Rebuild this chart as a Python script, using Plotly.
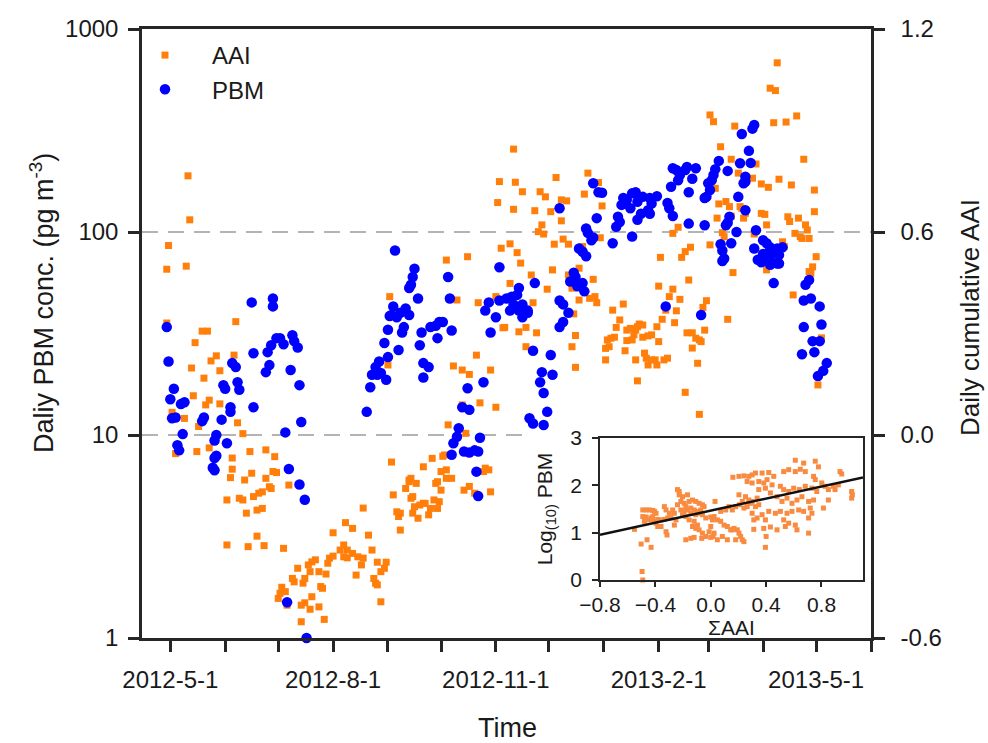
import plotly.graph_objects as go

# ---------------- data ----------------
# Daily cumulative AAI (orange squares, right axis): (date, value)
aai_points = [
    ("2012-04-29", 0.490), ("2012-04-29", 0.331), ("2012-04-30", 0.560), ("2012-05-02", 0.067),
    ("2012-05-04", -0.055), ("2012-05-09", 0.049), ("2012-05-10", 0.499), ("2012-05-11", 0.766),
    ("2012-05-12", 0.636), ("2012-05-13", 0.198), ("2012-05-14", 0.116), ("2012-05-15", 0.273),
    ("2012-05-16", -0.049), ("2012-05-17", 0.025), ("2012-05-19", 0.307), ("2012-05-20", 0.168),
    ("2012-05-21", 0.089), ("2012-05-22", 0.307), ("2012-05-23", 0.103), ("2012-05-23", -0.038),
    ("2012-05-24", 0.219), ("2012-05-27", 0.234), ("2012-05-29", 0.190), ("2012-05-29", 0.092),
    ("2012-06-02", -0.192), ("2012-06-02", -0.325), ("2012-06-04", -0.126), ("2012-06-05", -0.101),
    ("2012-06-05", -0.068), ("2012-06-06", 0.236), ("2012-06-07", 0.335), ("2012-06-08", 0.036),
    ("2012-06-09", -0.187), ("2012-06-11", -0.192), ("2012-06-11", 0.004), ("2012-06-12", -0.133),
    ("2012-06-13", -0.231), ("2012-06-14", -0.330), ("2012-06-15", -0.049), ("2012-06-16", -0.113),
    ("2012-06-17", -0.182), ("2012-06-19", -0.222), ("2012-06-19", -0.299), ("2012-06-20", -0.172),
    ("2012-06-22", -0.168), ("2012-06-22", -0.217), ("2012-06-23", -0.327), ("2012-06-24", -0.044),
    ("2012-06-24", -0.128), ("2012-06-26", -0.153), ("2012-06-27", -0.158), ("2012-06-28", -0.108),
    ("2012-06-29", -0.064), ("2012-06-30", -0.111), ("2012-07-01", -0.483), ("2012-07-02", -0.468),
    ("2012-07-03", -0.450), ("2012-07-04", -0.335), ("2012-07-05", -0.463), ("2012-07-06", -0.503),
    ("2012-07-07", -0.148), ("2012-07-09", -0.424), ("2012-07-10", -0.434), ("2012-07-12", -0.394),
    ("2012-07-14", -0.503), ("2012-07-14", -0.552), ("2012-07-15", -0.438), ("2012-07-16", -0.424),
    ("2012-07-16", -0.496), ("2012-07-18", -0.384), ("2012-07-19", -0.404), ("2012-07-19", -0.515),
    ("2012-07-20", -0.375), ("2012-07-20", -0.478), ("2012-07-22", -0.369), ("2012-07-24", -0.404),
    ("2012-07-24", -0.508), ("2012-07-25", -0.448), ("2012-07-26", -0.453), ("2012-07-27", -0.545),
    ("2012-07-28", -0.411), ("2012-07-29", -0.379), ("2012-07-30", -0.364), ("2012-08-01", -0.358),
    ("2012-08-01", -0.289), ("2012-08-05", -0.340), ("2012-08-07", -0.360), ("2012-08-07", -0.325),
    ("2012-08-08", -0.259), ("2012-08-09", -0.340), ("2012-08-09", -0.363), ("2012-08-12", -0.276),
    ("2012-08-12", -0.350), ("2012-08-14", -0.414), ("2012-08-15", -0.360), ("2012-08-17", -0.384),
    ("2012-08-18", -0.364), ("2012-08-18", -0.216), ("2012-08-21", -0.296), ("2012-08-23", -0.340),
    ("2012-08-24", -0.424), ("2012-08-25", -0.438), ("2012-08-26", -0.443), ("2012-08-26", -0.376),
    ("2012-08-28", -0.404), ("2012-08-28", -0.493), ("2012-08-30", -0.394), ("2012-08-31", -0.376),
    ("2012-09-01", 0.207), ("2012-09-02", 0.409), ("2012-09-03", -0.080), ("2012-09-04", -0.177),
    ("2012-09-06", -0.227), ("2012-09-07", -0.241), ("2012-09-08", -0.231), ("2012-09-08", -0.281),
    ("2012-09-11", -0.158), ("2012-09-13", -0.138), ("2012-09-13", -0.133), ("2012-09-14", -0.128),
    ("2012-09-14", -0.187), ("2012-09-15", -0.182), ("2012-09-15", -0.231), ("2012-09-16", -0.212),
    ("2012-09-17", -0.143), ("2012-09-18", -0.246), ("2012-09-19", -0.207), ("2012-09-21", -0.094),
    ("2012-09-21", -0.202), ("2012-09-22", -0.202), ("2012-09-24", -0.236), ("2012-09-25", -0.217),
    ("2012-09-26", -0.069), ("2012-09-27", -0.192), ("2012-09-28", -0.143), ("2012-09-29", -0.138),
    ("2012-09-29", -0.217), ("2012-09-30", -0.197), ("2012-10-01", -0.163), ("2012-10-01", -0.108),
    ("2012-10-02", -0.063), ("2012-10-03", -0.059), ("2012-10-04", -0.103), ("2012-10-04", -0.128),
    ("2012-10-04", 0.517), ("2012-10-05", 0.030), ("2012-10-07", -0.128), ("2012-10-08", 0.204),
    ("2012-10-10", 0.399), ("2012-10-13", 0.192), ("2012-10-13", 0.089), ("2012-10-14", -0.163),
    ("2012-10-15", 0.005), ("2012-10-16", 0.527), ("2012-10-17", 0.179), ("2012-10-17", -0.152),
    ("2012-10-20", -0.172), ("2012-10-21", 0.236), ("2012-10-22", 0.391), ("2012-10-23", 0.095),
    ("2012-10-25", -0.108), ("2012-10-26", -0.098), ("2012-10-28", -0.103), ("2012-10-29", 0.192),
    ("2012-10-29", -0.168), ("2012-11-01", 0.082), ("2012-11-01", 0.409), ("2012-11-03", 0.749),
    ("2012-11-02", 0.687), ("2012-11-04", 0.552), ("2012-11-05", 0.317), ("2012-11-06", 0.318),
    ("2012-11-09", 0.448), ("2012-11-09", 0.565), ("2012-11-11", 0.845), ("2012-11-11", 0.667),
    ("2012-11-12", 0.747), ("2012-11-13", 0.539), ("2012-11-14", 0.305), ("2012-11-15", 0.508),
    ("2012-11-16", 0.719), ("2012-11-18", 0.318), ("2012-11-18", 0.261), ("2012-11-21", 0.473),
    ("2012-11-22", 0.391), ("2012-11-23", 0.663), ("2012-11-24", 0.302), ("2012-11-25", 0.601),
    ("2012-11-26", 0.719), ("2012-11-27", 0.621), ("2012-11-28", 0.594), ("2012-11-29", 0.704),
    ("2012-11-30", 0.431), ("2012-12-02", 0.660), ("2012-12-03", 0.488), ("2012-12-04", 0.564),
    ("2012-12-05", 0.761), ("2012-12-08", 0.695), ("2012-12-08", 0.633), ("2012-12-09", 0.579),
    ("2012-12-11", 0.692), ("2012-12-12", 0.564), ("2012-12-12", 0.473), ("2012-12-14", 0.434),
    ("2012-12-14", 0.261), ("2012-12-15", 0.358), ("2012-12-16", 0.200), ("2012-12-16", 0.294),
    ("2012-12-18", 0.399), ("2012-12-18", 0.493), ("2012-12-20", 0.557), ("2012-12-21", 0.712),
    ("2012-12-23", 0.774), ("2012-12-24", 0.404), ("2012-12-26", 0.460), ("2012-12-27", 0.409),
    ("2012-12-28", 0.391), ("2012-12-29", 0.746), ("2012-12-30", 0.583), ("2012-12-31", 0.677),
    ("2013-01-02", 0.222), ("2013-01-02", 0.256), ("2013-01-03", 0.281), ("2013-01-04", 0.261),
    ("2013-01-05", 0.286), ("2013-01-06", 0.369), ("2013-01-07", 0.289), ("2013-01-08", 0.318),
    ("2013-01-10", 0.340), ("2013-01-12", 0.387), ("2013-01-13", 0.249), ("2013-01-14", 0.279),
    ("2013-01-14", 0.310), ("2013-01-16", 0.315), ("2013-01-17", 0.281), ("2013-01-18", 0.296),
    ("2013-01-19", 0.222), ("2013-01-19", 0.310), ("2013-01-20", 0.320), ("2013-01-20", 0.160),
    ("2013-01-21", 0.328), ("2013-01-23", 0.325), ("2013-01-23", 0.289), ("2013-01-24", 0.242),
    ("2013-01-25", 0.227), ("2013-01-26", 0.293), ("2013-01-26", 0.207), ("2013-01-28", 0.296),
    ("2013-01-28", 0.222), ("2013-01-30", 0.222), ("2013-01-31", 0.207), ("2013-01-31", 0.320),
    ("2013-02-01", 0.276), ("2013-02-01", 0.440), ("2013-02-02", 0.525), ("2013-02-03", 0.342),
    ("2013-02-04", 0.222), ("2013-02-05", 0.369), ("2013-02-06", 0.227), ("2013-02-07", 0.409),
    ("2013-02-09", 0.431), ("2013-02-09", 0.596), ("2013-02-10", 0.332), ("2013-02-11", 0.367),
    ("2013-02-12", 0.614), ("2013-02-13", 0.401), ("2013-02-14", 0.525), ("2013-02-16", 0.542),
    ("2013-02-16", 0.126), ("2013-02-17", 0.302), ("2013-02-18", 0.458), ("2013-02-19", 0.555),
    ("2013-02-20", 0.257), ("2013-02-20", 0.302), ("2013-02-22", 0.286), ("2013-02-23", 0.212),
    ("2013-02-24", 0.281), ("2013-02-24", 0.061), ("2013-02-25", 0.276), ("2013-02-26", 0.377),
    ("2013-02-27", 0.310), ("2013-02-28", 0.397), ("2013-03-02", 0.562), ("2013-03-02", 0.946),
    ("2013-03-04", 0.926), ("2013-03-05", 0.729), ("2013-03-06", 0.641), ("2013-03-07", 0.683),
    ("2013-03-08", 0.852), ("2013-03-09", 0.598), ("2013-03-10", 0.586), ("2013-03-11", 0.690),
    ("2013-03-12", 0.342), ("2013-03-13", 0.675), ("2013-03-14", 0.647), ("2013-03-14", 0.815),
    ("2013-03-15", 0.480), ("2013-03-16", 0.913), ("2013-03-18", 0.774), ("2013-03-19", 0.675),
    ("2013-03-20", 0.670), ("2013-03-21", 0.641), ("2013-03-22", 0.655), ("2013-03-26", 0.759),
    ("2013-03-27", 0.594), ("2013-03-28", 0.801), ("2013-03-31", 0.742), ("2013-03-31", 0.655),
    ("2013-04-02", 0.652), ("2013-04-03", 0.621), ("2013-04-03", 0.488), ("2013-04-04", 0.732),
    ("2013-04-05", 1.025), ("2013-04-07", 0.923), ("2013-04-08", 1.018), ("2013-04-09", 1.100),
    ("2013-04-10", 0.756), ("2013-04-12", 0.571), ("2013-04-13", 0.557), ("2013-04-14", 0.925),
    ("2013-04-15", 0.645), ("2013-04-16", 0.631), ("2013-04-17", 0.739), ("2013-04-18", 0.414),
    ("2013-04-19", 0.596), ("2013-04-20", 0.943), ("2013-04-21", 0.641), ("2013-04-22", 0.586),
    ("2013-04-23", 0.581), ("2013-04-24", 0.815), ("2013-04-25", 0.621), ("2013-04-26", 0.606),
    ("2013-04-27", 0.581), ("2013-04-27", 0.483), ("2013-04-28", 0.478), ("2013-04-29", 0.497),
    ("2013-04-30", 0.724), ("2013-04-30", 0.660), ("2013-05-01", 0.527), ("2013-05-02", 0.148),
    ("2013-05-04", 0.287),
]

# Daily PBM concentration, pg m-3 (blue circles, left log axis): (date, value)
pbm_points = [
    ("2012-04-29", 34), ("2012-04-30", 23), ("2012-05-01", 15), ("2012-05-02", 12.1),
    ("2012-05-03", 16.9), ("2012-05-04", 12.2), ("2012-05-05", 8.9), ("2012-05-06", 8.4),
    ("2012-05-07", 14.2), ("2012-05-08", 10.1), ("2012-05-09", 14.5), ("2012-05-19", 11.7),
    ("2012-05-20", 12.2), ("2012-05-25", 6.9), ("2012-05-26", 7.7), ("2012-05-26", 9.4),
    ("2012-05-26", 6.7), ("2012-05-27", 10.0), ("2012-05-27", 7.9), ("2012-05-30", 11.9),
    ("2012-05-31", 17.6), ("2012-06-01", 16.9), ("2012-06-02", 9.1), ("2012-06-04", 13.0),
    ("2012-06-04", 13.7), ("2012-06-05", 22.6), ("2012-06-07", 21.6), ("2012-06-08", 18.2),
    ("2012-06-09", 16.7), ("2012-06-16", 45), ("2012-06-17", 13.7), ("2012-06-17", 25.3),
    ("2012-06-24", 20.4), ("2012-06-25", 25.6), ("2012-06-26", 22.1), ("2012-06-27", 27.7),
    ("2012-06-28", 43), ("2012-06-28", 47), ("2012-06-30", 30), ("2012-07-02", 30),
    ("2012-07-04", 28), ("2012-07-05", 10.3), ("2012-07-06", 1.5), ("2012-07-07", 6.8),
    ("2012-07-08", 20.9), ("2012-07-09", 31), ("2012-07-10", 29), ("2012-07-12", 27),
    ("2012-07-13", 17.6), ("2012-07-13", 5.7), ("2012-07-14", 11.6), ("2012-07-16", 4.8),
    ("2012-07-17", 1.0),
    ("2012-08-20", 13.0), ("2012-08-22", 17.2), ("2012-08-23", 19.8), ("2012-08-25", 21.6),
    ("2012-08-26", 19.8), ("2012-08-27", 23), ("2012-08-28", 20.2), ("2012-08-30", 28.4),
    ("2012-08-31", 18.7), ("2012-09-01", 24.2), ("2012-09-01", 33), ("2012-09-02", 38.6),
    ("2012-09-03", 39), ("2012-09-04", 43), ("2012-09-05", 81), ("2012-09-06", 38),
    ("2012-09-07", 26.2), ("2012-09-08", 40), ("2012-09-09", 32), ("2012-09-10", 34),
    ("2012-09-11", 42), ("2012-09-13", 39), ("2012-09-13", 53), ("2012-09-14", 55),
    ("2012-09-15", 60), ("2012-09-16", 66), ("2012-09-18", 47), ("2012-09-19", 27.7),
    ("2012-09-20", 32), ("2012-09-21", 19.2), ("2012-09-21", 22.6), ("2012-09-24", 21.6),
    ("2012-09-25", 34), ("2012-09-28", 34.5), ("2012-09-29", 30), ("2012-09-30", 36),
    ("2012-10-02", 36), ("2012-10-05", 60), ("2012-10-06", 47), ("2012-10-07", 32.7),
    ("2012-10-07", 8.0), ("2012-10-08", 9.1), ("2012-10-10", 9.8), ("2012-10-11", 10.8),
    ("2012-10-13", 13.7), ("2012-10-14", 8.3), ("2012-10-16", 17), ("2012-10-17", 13.3),
    ("2012-10-17", 8.2), ("2012-10-20", 8.4), ("2012-10-21", 6.6), ("2012-10-22", 8.3),
    ("2012-10-22", 5.0), ("2012-10-23", 9.7), ("2012-10-25", 18.2), ("2012-10-26", 41),
    ("2012-10-28", 45), ("2012-10-29", 32), ("2012-11-01", 38),
    ("2012-11-03", 67), ("2012-11-03", 46), ("2012-11-07", 47), ("2012-11-10", 48),
    ("2012-11-11", 44), ("2012-11-13", 49), ("2012-11-14", 53), ("2012-11-09", 41),
    ("2012-11-14", 41), ("2012-11-16", 44), ("2012-11-19", 40), ("2012-11-16", 38),
    ("2012-11-19", 41), ("2012-11-23", 56), ("2012-11-22", 26), ("2012-11-20", 12.1),
    ("2012-11-22", 11.4), ("2012-11-26", 18.2), ("2012-11-27", 20.4), ("2012-11-28", 11.2),
    ("2012-11-28", 16.1), ("2012-11-30", 13.0),
    ("2012-12-02", 24.8), ("2012-12-03", 19.8), ("2012-12-07", 131), ("2012-12-07", 46),
    ("2012-12-09", 44), ("2012-12-12", 40), ("2012-12-09", 36), ("2012-12-07", 34),
    ("2012-12-13", 57), ("2012-12-15", 63), ("2012-12-16", 60), ("2012-12-18", 55),
    ("2012-12-20", 56), ("2012-12-21", 51), ("2012-12-17", 54), ("2012-12-18", 83),
    ("2012-12-20", 80), ("2012-12-22", 76), ("2012-12-22", 104), ("2012-12-23", 99),
    ("2012-12-25", 91), ("2012-12-26", 94), ("2012-12-26", 174), ("2012-12-29", 157),
    ("2012-12-31", 156), ("2012-12-28", 117),
    ("2013-01-06", 88), ("2013-01-08", 106), ("2013-01-09", 119), ("2013-01-10", 112),
    ("2013-01-11", 136), ("2013-01-12", 147), ("2013-01-14", 144), ("2013-01-16", 131),
    ("2013-01-17", 155), ("2013-01-17", 95), ("2013-01-19", 157), ("2013-01-20", 141),
    ("2013-01-20", 115), ("2013-01-22", 123), ("2013-01-23", 149), ("2013-01-26", 128),
    ("2013-01-27", 123), ("2013-01-27", 147), ("2013-01-28", 138), ("2013-01-31", 150),
    ("2013-02-05", 43), ("2013-02-06", 139), ("2013-02-07", 131), ("2013-02-09", 120),
    ("2013-02-08", 167), ("2013-02-09", 206), ("2013-02-11", 202), ("2013-02-12", 180),
    ("2013-02-13", 191), ("2013-02-16", 202), ("2013-02-17", 209), ("2013-02-18", 157),
    ("2013-02-20", 183), ("2013-02-22", 206), ("2013-02-18", 110), ("2013-02-25", 39),
    ("2013-02-27", 108), ("2013-02-27", 147), ("2013-02-28", 149),
    ("2013-03-01", 174), ("2013-03-02", 161), ("2013-03-03", 180), ("2013-03-04", 191),
    ("2013-03-05", 204), ("2013-03-07", 224), ("2013-03-12", 200), ("2013-03-08", 87),
    ("2013-03-09", 81), ("2013-03-09", 72), ("2013-03-10", 74), ("2013-03-11", 108),
    ("2013-03-12", 111), ("2013-03-13", 119), ("2013-03-14", 88), ("2013-03-17", 100),
    ("2013-03-18", 149), ("2013-03-19", 218), ("2013-03-20", 304), ("2013-03-21", 174),
    ("2013-03-22", 187), ("2013-03-22", 177), ("2013-03-22", 128), ("2013-03-24", 251),
    ("2013-03-25", 219), ("2013-03-26", 323), ("2013-03-27", 337), ("2013-03-27", 83),
    ("2013-03-28", 102), ("2013-03-29", 73), ("2013-03-30", 73), ("2013-03-31", 71),
    ("2013-04-01", 91), ("2013-04-01", 78), ("2013-04-03", 88), ("2013-04-03", 78),
    ("2013-04-05", 84), ("2013-04-05", 73), ("2013-04-05", 69), ("2013-04-07", 80),
    ("2013-04-09", 83), ("2013-04-09", 70), ("2013-04-10", 77), ("2013-04-10", 70),
    ("2013-04-12", 84), ("2013-04-07", 56), ("2013-04-23", 25), ("2013-04-24", 34),
    ("2013-04-24", 46), ("2013-04-25", 55), ("2013-04-27", 58), ("2013-04-28", 47),
    ("2013-04-29", 29), ("2013-04-30", 25.6), ("2013-05-02", 19.5), ("2013-05-03", 29),
    ("2013-05-03", 43), ("2013-05-04", 35), ("2013-05-05", 20.7), ("2013-05-07", 22.6),
]

# Inset: sum of AAI vs log10(PBM)
inset_points = [
    (-0.551, 1.07), (-0.503, 0.76), (-0.460, 0.85), (-0.431, 0.69), (-0.496, 0.18), (-0.491, 0.0),
    (-0.491, 1.48), (-0.467, 1.48), (-0.443, 1.48), (-0.419, 1.47), (-0.407, 1.45), (-0.395, 1.41),
    (-0.491, 1.34), (-0.467, 1.33), (-0.431, 1.31), (-0.383, 1.28), (-0.479, 1.24), (-0.443, 1.27),
    (-0.407, 1.24), (-0.383, 1.13), (-0.359, 1.13), (-0.323, 1.02), (-0.316, 0.95), (-0.335, 1.28),
    (-0.311, 1.31), (-0.275, 1.48), (-0.263, 1.41), (-0.287, 1.31), (-0.251, 1.27), (-0.263, 1.16),
    (-0.240, 1.91), (-0.228, 1.80), (-0.216, 1.66), (-0.240, 1.59), (-0.204, 1.76), (-0.192, 1.62),
    (-0.180, 1.55), (-0.156, 1.66), (-0.132, 1.69), (-0.108, 1.66), (-0.084, 1.62), (-0.216, 1.48),
    (-0.192, 1.45), (-0.168, 1.48), (-0.144, 1.52), (-0.120, 1.48), (-0.096, 1.45), (-0.072, 1.48),
    (-0.204, 1.38), (-0.180, 1.34), (-0.144, 1.41), (-0.108, 1.38), (-0.084, 1.41), (-0.060, 1.38),
    (-0.156, 1.27), (-0.120, 1.24), (-0.096, 1.16), (-0.132, 1.13), (-0.108, 1.09), (-0.084, 1.06),
    (-0.060, 0.99), (-0.180, 0.85), (-0.144, 0.88), (-0.120, 0.90), (-0.065, 0.88), (-0.036, 0.92),
    (0.000, 0.90), (0.017, 0.92), (-0.012, 1.02), (0.000, 1.13), (0.012, 1.27), (0.024, 1.34),
    (0.031, 1.66), (-0.048, 1.55), (-0.060, 1.59), (0.048, 1.27), (0.072, 1.24), (0.096, 1.16),
    (0.120, 1.13), (0.144, 1.06), (0.168, 1.09), (0.192, 1.06), (0.204, 0.99), (0.216, 0.92),
    (0.228, 0.85), (0.240, 0.81), (0.156, 1.48), (0.180, 1.55), (0.208, 1.59), (0.240, 1.52),
    (0.204, 1.80), (0.275, 1.69), (0.299, 1.66), (0.335, 1.73), (0.323, 1.55), (0.347, 1.59),
    (0.160, 2.17), (0.204, 2.19), (0.240, 2.20), (0.275, 2.19), (0.299, 2.22), (0.323, 2.26),
    (0.371, 2.26), (0.419, 2.27), (0.455, 2.19), (0.263, 2.08), (0.299, 2.05), (0.347, 2.08),
    (0.383, 2.05), (0.407, 2.12), (0.443, 2.01), (0.347, 1.91), (0.395, 1.94), (0.431, 1.84),
    (0.371, 1.38), (0.419, 1.45), (0.467, 1.41), (0.395, 1.27), (0.335, 1.31), (0.311, 1.07),
    (0.383, 1.09), (0.431, 1.12), (0.479, 1.06), (0.400, 0.92), (0.395, 0.69), (0.503, 1.98),
    (0.527, 1.91), (0.563, 1.87), (0.599, 1.94), (0.640, 1.91), (0.683, 1.98), (0.731, 1.94),
    (0.766, 1.87), (0.527, 2.29), (0.563, 2.33), (0.611, 2.29), (0.647, 2.34), (0.683, 2.29),
    (0.671, 2.47), (0.611, 2.53), (0.755, 2.51), (0.778, 2.39), (0.479, 1.76), (0.515, 1.66),
    (0.551, 1.73), (0.587, 1.62), (0.623, 1.69), (0.659, 1.76), (0.707, 1.66), (0.743, 1.69),
    (0.503, 1.45), (0.551, 1.41), (0.587, 1.45), (0.635, 1.48), (0.671, 1.45), (0.731, 1.41),
    (0.527, 1.27), (0.563, 1.20), (0.611, 1.16), (0.539, 1.13), (0.623, 1.06), (0.707, 0.99),
    (0.707, 1.31), (0.719, 1.52), (0.743, 2.19), (0.755, 2.12), (0.802, 2.05), (0.826, 1.98),
    (0.850, 1.91), (0.886, 1.98), (0.898, 1.91), (0.922, 2.01), (0.814, 1.52), (0.850, 1.69),
    (0.934, 2.29), (0.946, 2.24), (1.018, 1.87), (1.023, 1.80), (1.018, 1.73), (0.228, 1.66),
    (0.251, 1.76), (0.263, 1.55), (0.287, 1.62), (0.072, 1.45), (0.108, 1.48), (0.132, 1.55),
    (-0.036, 1.31), (0.000, 1.33), (-0.323, 1.48), (-0.299, 1.41), (-0.335, 1.55), (-0.168, 1.80),
    (-0.228, 1.87), (-0.419, 1.34), (-0.359, 1.27), (-0.395, 1.20), (0.024, 0.99), (0.048, 0.85),
    (0.084, 0.92), (0.120, 0.85), (0.180, 0.85), (0.156, 1.06), (0.311, 1.27), (0.299, 1.41),
]
fit_slope = 0.637
fit_intercept = 1.466

# axes / ticks
date_range = ["2012-04-15", "2013-06-01"]
label_ticks = ["2012-05-01", "2012-08-01", "2012-11-01", "2013-02-01", "2013-05-01"]
label_text = ["2012-5-1", "2012-8-1", "2012-11-1", "2013-2-1", "2013-5-1"]
month_ticks = ["2012-05-01", "2012-06-01", "2012-07-01", "2012-08-01", "2012-09-01",
               "2012-10-01", "2012-11-01", "2012-12-01", "2013-01-01", "2013-02-01",
               "2013-03-01", "2013-04-01", "2013-05-01", "2013-06-01"]
pbm_ticks = [1, 10, 100, 1000]
pbm_log_range = [0, 3]
aai_ticks = [-0.6, 0.0, 0.6, 1.2]
aai_range = [-0.6, 1.2]
aai_grid = [0.0, 0.6]
inset_x_ticks = [-0.8, -0.4, 0.0, 0.4, 0.8]
inset_x_range = [-0.8, 1.1]
inset_y_ticks = [0, 1, 2, 3]
inset_y_range = [0, 3]

# ---------------- figure ----------------
FONT = "Liberation Sans, Arial, sans-serif"
TXT = "#1a1a1a"
AX = "#262626"
ORANGE = "#FF7F0A"
BLUE = "#0000FF"
INSET_ORANGE = "#F98B40"

aai_dates = [d for d, _ in aai_points]
aai_vals = [v for _, v in aai_points]
pbm_dates = [d for d, _ in pbm_points]
pbm_vals = [v for _, v in pbm_points]
inset_x = [a for a, _ in inset_points]
inset_y = [b for _, b in inset_points]
fit_x = list(inset_x_range)
fit_y = [fit_intercept + fit_slope * v for v in fit_x]

W, H = 988, 743
ML, MR, MT, MB = 142, 117, 29, 105
pw, ph = W - ML - MR, H - MT - MB


def px_x(p):  # pixel column -> paper x
    return (p - ML) / pw


def px_y(p):  # pixel row -> paper y
    return (H - MB - p) / ph


fig = go.Figure()
fig.add_trace(go.Scatter(
    x=aai_dates, y=aai_vals, mode="markers", name="AAI",
    marker=dict(symbol="square", size=7, color=ORANGE, line=dict(width=0)),
    xaxis="x", yaxis="y", cliponaxis=False))
fig.add_trace(go.Scatter(
    x=pbm_dates, y=pbm_vals, mode="markers", name="PBM",
    marker=dict(symbol="circle", size=10.5, color=BLUE, line=dict(width=0)),
    xaxis="x", yaxis="y2", cliponaxis=False))
fig.add_trace(go.Scatter(
    x=inset_x, y=inset_y, mode="markers", showlegend=False,
    marker=dict(symbol="square", size=5, color=INSET_ORANGE, line=dict(width=0)),
    xaxis="x2", yaxis="y3", cliponaxis=False))
fig.add_trace(go.Scatter(
    x=fit_x, y=fit_y, mode="lines", showlegend=False,
    line=dict(color="#111111", width=2.5),
    xaxis="x2", yaxis="y3"))

# dashed reference lines at the 0.0 / 0.6 AAI (10 / 100 PBM) levels
shapes = []
for v in aai_grid:
    shapes.append(dict(
        type="line", xref="paper", yref="y", x0=0, x1=px_x(528) if v == 0.0 else 1,
        y0=v, y1=v, layer="below",
        line=dict(color="#b4b4b4", width=2, dash="16px,10px")))

annotations = [
    dict(text="Daliy PBM conc. (pg m<sup>-3</sup>)", xref="paper", yref="paper",
         x=px_x(42), y=px_y(303), textangle=-90, showarrow=False,
         xanchor="center", yanchor="middle", font=dict(size=27, color=TXT)),
    dict(text="Daily cumulative AAI", xref="paper", yref="paper",
         x=px_x(970), y=px_y(318), textangle=-90, showarrow=False,
         xanchor="center", yanchor="middle", font=dict(size=26, color=TXT)),
    dict(text="Time", xref="paper", yref="paper",
         x=px_x(507), y=px_y(728), showarrow=False,
         xanchor="center", yanchor="middle", font=dict(size=27, color=TXT)),
]

tick_common = dict(ticks="outside", ticklen=11, tickwidth=2.5, tickcolor=AX,
                   showline=True, linewidth=2.5, linecolor=AX,
                   showgrid=False, zeroline=False, automargin=False)

fig.update_layout(
    width=W, height=H,
    margin=dict(l=ML, r=MR, t=MT, b=MB, pad=0, autoexpand=False),
    paper_bgcolor="white", plot_bgcolor="white",
    font=dict(family=FONT, color=TXT, size=24),
    showlegend=True,
    legend=dict(x=px_x(118), y=px_y(33), xanchor="left", yanchor="top",
                bgcolor="rgba(0,0,0,0)", font=dict(size=24, color=TXT),
                itemwidth=84, tracegroupgap=0),
    shapes=shapes,
    annotations=annotations,
    xaxis=dict(
        type="date", range=date_range, domain=[0, 1], anchor="y",
        tickmode="array", tickvals=label_ticks, ticktext=label_text,
        minor=dict(tickmode="array", tickvals=month_ticks, ticks="outside",
                   ticklen=11, tickwidth=2.5, tickcolor=AX, showgrid=False),
        mirror=True, ticklabelstandoff=7,
        tickfont=dict(size=24, color=TXT), **tick_common),
    yaxis=dict(
        range=aai_range, side="right", anchor="x",
        tickmode="array", tickvals=aai_ticks, ticktext=["-0.6", "0.0", "0.6", "1.2"],
        ticklabelstandoff=11, tickfont=dict(size=24, color=TXT), **tick_common),
    yaxis2=dict(
        type="log", range=pbm_log_range, overlaying="y", side="left", anchor="x",
        tickmode="array", tickvals=pbm_ticks, ticktext=[str(t) for t in pbm_ticks],
        ticklabelstandoff=5, tickfont=dict(size=24, color=TXT), **tick_common),
    xaxis2=dict(
        domain=[px_x(600), px_x(863)], anchor="y3",
        range=inset_x_range, tickmode="array", tickvals=inset_x_ticks,
        tickformat=".1f", ticks="outside", ticklen=5, tickwidth=1.5, tickcolor=AX,
        showline=True, linewidth=1.5, linecolor=AX, mirror=True,
        showgrid=False, zeroline=False, ticklabelstandoff=0, automargin=False,
        tickfont=dict(size=21, color=TXT),
        title=dict(text="\u03a3AAI", font=dict(size=21, color=TXT), standoff=0)),
    yaxis3=dict(
        domain=[px_y(580), px_y(438)], anchor="x2",
        range=inset_y_range, tickmode="array", tickvals=inset_y_ticks,
        ticks="outside", ticklen=6, tickwidth=1.5, tickcolor=AX,
        showline=True, linewidth=1.5, linecolor=AX, mirror=True,
        showgrid=False, zeroline=False, ticklabelstandoff=6, automargin=False,
        tickfont=dict(size=21, color=TXT),
        title=dict(text="Log<sub>(10)</sub> PBM", font=dict(size=21, color=TXT), standoff=12)),
)

fig.write_html("out.html")
